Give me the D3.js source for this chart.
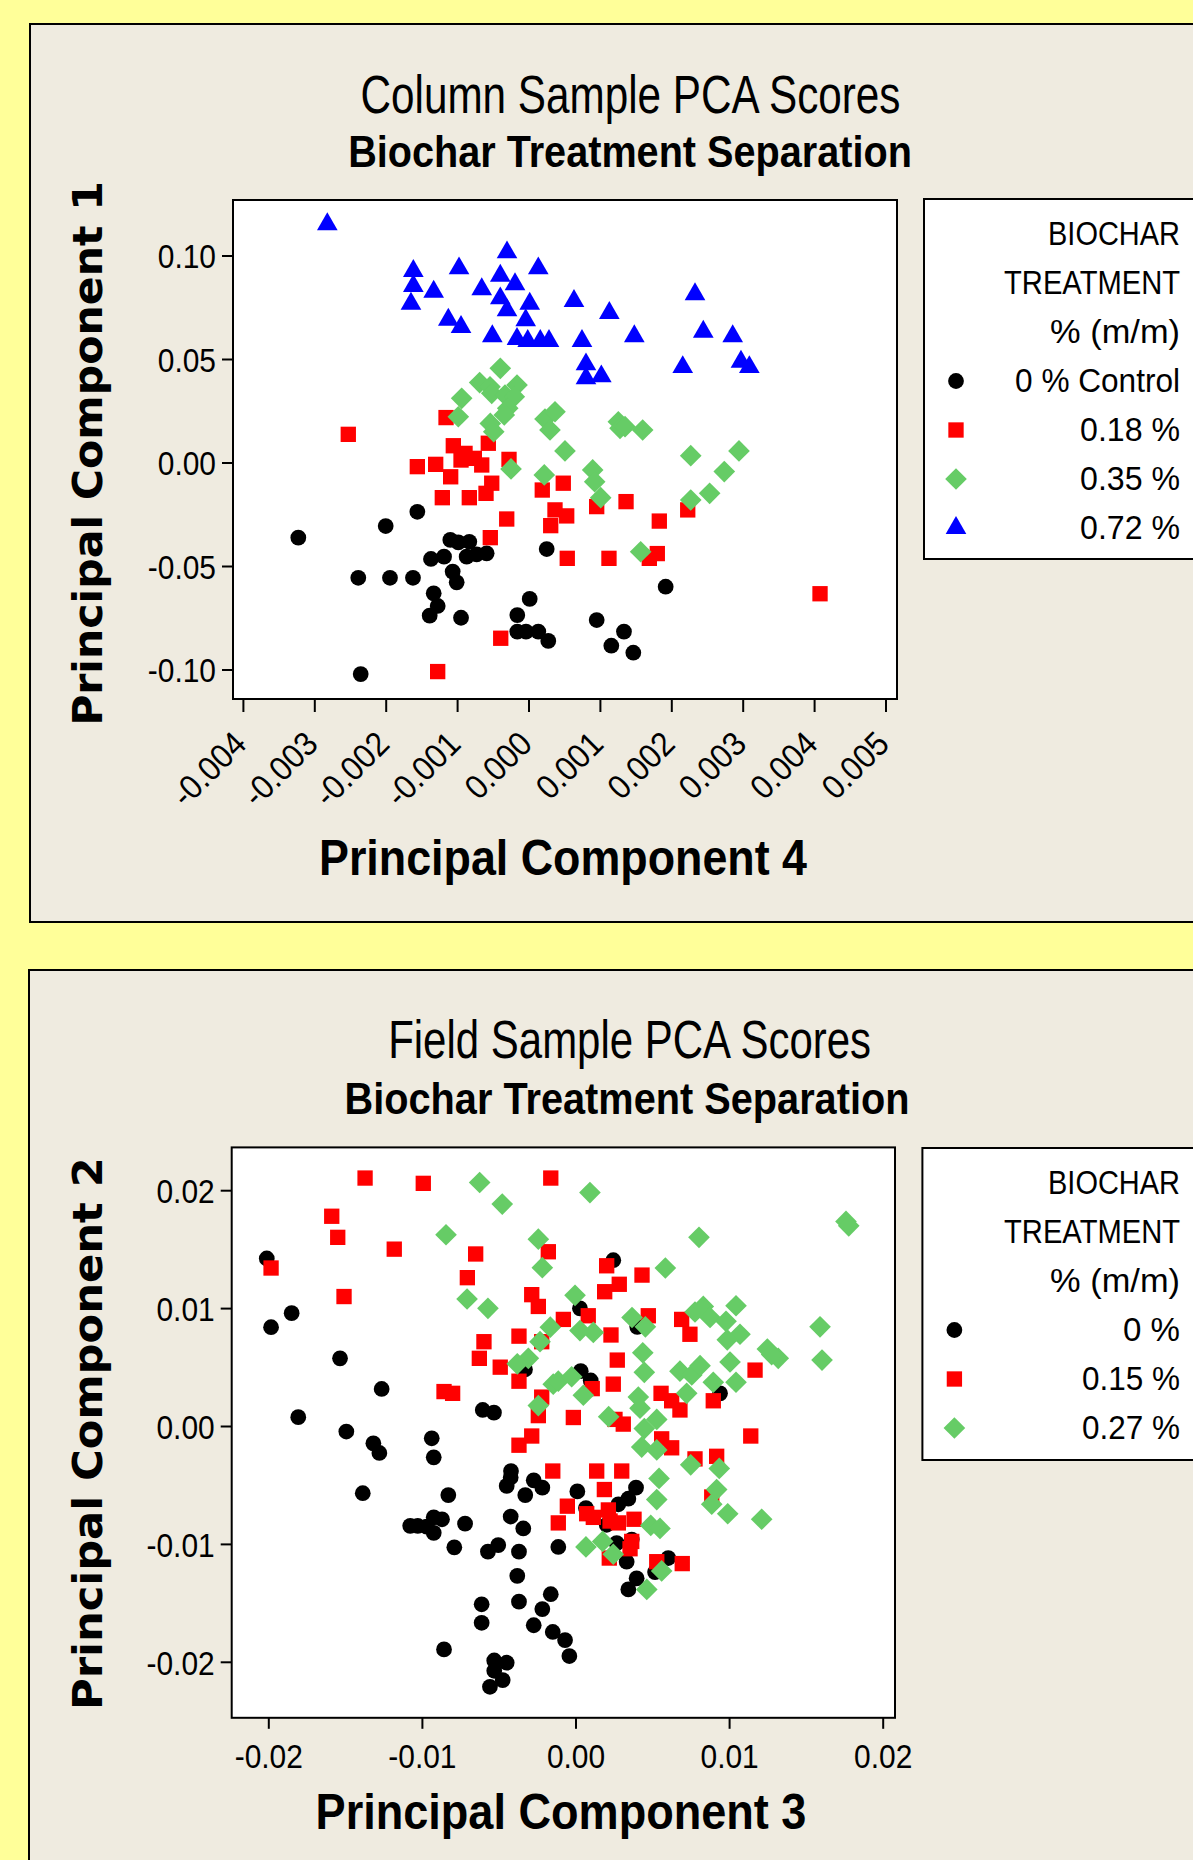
<!DOCTYPE html>
<html>
<head>
<meta charset="utf-8">
<script src="https://cdn.jsdelivr.net/npm/d3@7"></script>
<style>
html,body{margin:0;padding:0;background:#FFFF99;}
svg{display:block;}
</style>
</head>
<body>
<svg id="chart" width="1193" height="1860"></svg>
<script>
// ---------------- DATA ----------------
// Column samples: [PC4, PC1]
const colControl = [[-0.003224,-0.0363],[-0.0020,-0.0307],[-0.001557,-0.0238],[-0.002384,-0.0557],[-0.00194,-0.0557],[-0.001618,-0.0557],[-0.001095,-0.0374],[-0.000983,-0.0386],[-0.000829,-0.0383],[-0.001366,-0.0466],[-0.001183,-0.0455],[-0.000866,-0.0455],[-0.000726,-0.0444],[-0.000586,-0.0439],[-0.001062,-0.0527],[-0.001006,-0.0579],[-0.001328,-0.0632],[-0.001272,-0.0693],[-0.001384,-0.074],[-0.000945,-0.075],[0.000017,-0.0659],[-0.000157,-0.0737],[-0.000157,-0.0817],[-0.000035,-0.0817],[0.000137,-0.0817],[0.000277,-0.0862],[0.000255,-0.0418],[-0.00235,-0.1022],[0.001921,-0.06],[0.000955,-0.0761],[0.001337,-0.0817],[0.00116,-0.0885],[0.001468,-0.0919]];
const col018 = [[-0.002524,0.0136],[-0.001155,0.0217],[-0.001053,0.0081],[-0.000563,0.0093],[-0.000889,0.0044],[-0.000759,0.002],[-0.000945,0.0012],[-0.000655,-0.0012],[-0.001557,-0.002],[-0.0013,-0.0009],[-0.000273,0.0015],[-0.00109,-0.0069],[-0.000515,-0.01],[-0.000595,-0.0149],[-0.001207,-0.017],[-0.000829,-0.017],[0.000193,-0.0133],[0.000371,-0.0229],[0.000535,-0.0258],[0.000311,-0.0305],[-0.000305,-0.0273],[-0.000535,-0.0363],[0.000543,-0.0463],[-0.000389,-0.0849],[-0.001272,-0.101],[0.000487,-0.01],[0.000955,-0.0213],[0.001366,-0.0189],[0.001832,-0.0283],[0.00223,-0.0229],[0.001127,-0.0463],[0.001692,-0.0463],[0.001804,-0.044],[0.004083,-0.0634]];
const col035 = [[-0.000395,0.0455],[-0.000684,0.0386],[-0.000539,0.0366],[-0.000161,0.0374],[-0.000936,0.031],[-0.000515,0.0334],[-0.000329,0.0326],[-0.000199,0.0318],[-0.000983,0.0221],[-0.000291,0.0262],[-0.000339,0.023],[-0.000535,0.0189],[-0.000487,0.0149],[0.000231,0.021],[0.000371,0.0245],[0.000301,0.0157],[-0.000245,-0.0031],[0.000221,-0.006],[0.000511,0.0056],[0.001258,0.0197],[0.001282,0.0165],[0.001352,0.0173],[0.001599,0.0157],[0.002272,0.0033],[0.002948,0.0056],[0.000899,-0.0036],[0.000927,-0.0093],[0.002742,-0.0044],[0.002537,-0.0149],[0.001011,-0.017],[0.002272,-0.0181],[0.001571,-0.0431]];
const col072 = [[-0.002818,0.1151],[-0.000301,0.1015],[-0.001613,0.0925],[-0.000973,0.0938],[0.000137,0.0938],[-0.000395,0.0902],[-0.000189,0.0861],[-0.001613,0.0853],[-0.001328,0.0825],[-0.000655,0.0837],[-0.000395,0.0793],[0.000017,0.0767],[-0.001646,0.0767],[-0.000301,0.0735],[-0.001123,0.069],[-0.000945,0.0655],[-0.000039,0.0687],[-0.000507,0.061],[-0.000161,0.0597],[-0.000011,0.0587],[0.000165,0.0587],[0.000287,0.0587],[0.000637,0.078],[0.001132,0.0722],[0.002332,0.0813],[0.000749,0.0587],[0.001482,0.061],[0.002448,0.0632],[0.00286,0.061],[0.000805,0.0474],[0.000805,0.0407],[0.00102,0.0416],[0.00216,0.0461],[0.002976,0.0487],[0.003093,0.0461]];

// Field samples: [PC3, PC2]
const fieldControl = [[-0.0201,0.01421],[-0.01848,0.00957],[-0.01982,0.00838],[-0.01533,0.00574],[-0.01262,0.00314],[-0.01805,0.00075],[-0.01492,-0.00047],[-0.01316,-0.00147],[-0.01277,-0.00229],[-0.00936,-0.00104],[-0.00923,-0.00266],[-0.01385,-0.0057],[-0.00604,0.00136],[-0.00531,0.00113],[-0.00329,0.0048],[-0.0042,-0.00382],[-0.00422,-0.00436],[-0.00448,-0.00508],[-0.00272,-0.00461],[-0.00216,-0.00523],[-0.00327,-0.00586],[-0.00828,-0.00586],[-0.01076,-0.00847],[-0.01027,-0.00847],[-0.00969,-0.00853],[-0.00923,-0.00775],[-0.00869,-0.00791],[-0.00923,-0.00906],[-0.00719,-0.00828],[-0.00789,-0.01029],[-0.00422,-0.00768],[-0.0034,-0.00869],[-0.00503,-0.0101],[-0.0057,-0.01066],[-0.00368,-0.01066],[-0.00112,-0.01026],[-0.00379,-0.01271],[-0.00611,-0.01512],[-0.00611,-0.01669],[-0.00368,-0.0149],[-0.00161,-0.01427],[-0.00216,-0.01553],[-0.00272,-0.0169],[-0.00148,-0.01747],[-0.00068,-0.01816],[-0.0004,-0.01951],[-0.00856,-0.01895],[-0.00529,-0.01989],[-0.00448,-0.02008],[-0.00529,-0.02076],[-0.00474,-0.02155],[-0.00557,-0.02212],[0.00246,0.01406],[0.00029,0.00998],[0.00402,0.00841],[0.00034,0.00465],[0.00099,0.00386],[0.00941,0.00277],[0.00012,-0.00555],[0.00394,-0.00523],[0.00344,-0.00617],[0.00279,-0.00664],[0.00068,-0.00696],[0.00203,-0.00838],[0.00268,-0.00994],[0.00333,-0.01151],[0.00366,-0.00963],[0.00604,-0.0112],[0.00518,-0.01239],[0.00398,-0.01292],[0.00344,-0.01386]];
const field015 = [[-0.0137,0.02103],[-0.00991,0.02058],[-0.00161,0.02103],[-0.01587,0.01779],[-0.01548,0.016],[-0.0118,0.015],[-0.01982,0.0134],[-0.0065,0.01459],[-0.00177,0.01478],[-0.00704,0.01258],[-0.01507,0.01098],[-0.00285,0.01114],[-0.00242,0.01014],[-0.00079,0.00904],[-0.00596,0.00715],[-0.00626,0.00574],[-0.00368,0.00762],[-0.0022,0.00715],[-0.0049,0.00499],[-0.00368,0.0038],[-0.00856,0.00292],[-0.008,0.00277],[-0.0022,0.00245],[-0.00242,0.00088],[-0.00285,-0.00085],[-0.00368,-0.00163],[-0.00148,-0.00382],[-0.00112,-0.00822],[0.00203,0.01359],[0.00433,0.0128],[0.00285,0.01202],[0.0019,0.01139],[0.00083,0.00935],[0.00474,0.00935],[0.00691,0.00904],[0.00745,0.00778],[0.00231,0.00772],[0.00272,0.00559],[0.01169,0.00474],[0.00246,0.00355],[0.00109,0.00317],[0.00557,0.00277],[0.00626,0.00214],[0.0068,0.00136],[0.00897,0.00214],[-0.00014,0.00072],[0.00257,0.00056],[0.00311,0.00016],[0.00561,-0.00109],[0.00626,-0.00185],[0.01141,-0.00085],[0.00778,-0.00279],[0.00919,-0.00257],[0.00138,-0.00382],[0.00301,-0.00382],[0.00188,-0.00539],[0.00887,-0.00602],[-0.00053,-0.0068],[0.00073,-0.00744],[0.00116,-0.00775],[0.00214,-0.00712],[0.00225,-0.00806],[0.00279,-0.00822],[0.00381,-0.00791],[0.00366,-0.00979],[0.00355,-0.01041],[0.0022,-0.0112],[0.00529,-0.01151],[0.00695,-0.01167]];
const field027 = [[-0.00624,0.02065],[-0.00477,0.01882],[-0.00843,0.01622],[-0.00242,0.01585],[-0.00216,0.01343],[-0.00706,0.01077],[-0.0057,0.00998],[-0.00164,0.00838],[-0.00231,0.00715],[-0.00307,0.00574],[-0.00379,0.00527],[-0.00145,0.00355],[-0.00112,0.0038],[-0.00242,0.00173],[0.00094,0.0198],[0.00804,0.016],[0.01761,0.01735],[0.01779,0.01698],[0.00585,0.0134],[-0.00003,0.01108],[0.00368,0.0092],[0.00455,0.00841],[0.00029,0.00809],[0.00116,0.00794],[0.00778,0.00967],[0.00832,0.01014],[0.00876,0.0092],[0.01045,0.0102],[0.0098,0.00888],[0.01071,0.00778],[0.00988,0.00731],[0.01592,0.00841],[0.00438,0.00621],[0.00448,0.00455],[-0.00025,0.00418],[0.00051,0.00261],[0.0068,0.00465],[0.00757,0.00433],[0.00811,0.00512],[0.00724,0.00277],[0.00897,0.00371],[0.01006,0.00543],[0.01045,0.00371],[0.01249,0.00653],[0.0132,0.00574],[0.01277,0.00606],[0.01605,0.00559],[0.00409,0.00245],[0.0042,0.00151],[0.00216,0.00079],[0.00529,0.00056],[0.00448,-0.00022],[0.00431,-0.00179],[0.00529,-0.00203],[0.0075,-0.00329],[0.00936,-0.0036],[0.00544,-0.00445],[0.00529,-0.00624],[0.00919,-0.00539],[0.00887,-0.00664],[0.00991,-0.00744],[0.01212,-0.00791],[0.0049,-0.00843],[0.0055,-0.00869],[0.00068,-0.01026],[0.00177,-0.00979],[0.00246,-0.01088],[0.00561,-0.01229],[0.00464,-0.01386]];

// Tick values
const colXTicks = [-0.004,-0.003,-0.002,-0.001,0,0.001,0.002,0.003,0.004,0.005];
const colYTicks = [-0.10,-0.05,0,0.05,0.10];
const fieldXTicks = [-0.02,-0.01,0,0.01,0.02];
const fieldYTicks = [-0.02,-0.01,0,0.01,0.02];

// Text
const colTitle = "Column Sample PCA Scores";
const fieldTitle = "Field Sample PCA Scores";
const subTitle = "Biochar Treatment Separation";
const legendHeader = ["BIOCHAR","TREATMENT","% (m/m)"];
const colLegend = ["0 % Control","0.18 %","0.35 %","0.72 %"];
const fieldLegend = ["0 %","0.15 %","0.27 %"];

// ---------------- DRAW ----------------
const svg = d3.select("#chart");
const loc = d3.formatLocale({decimal:".",thousands:",",grouping:[3],currency:["",""],minus:"-"});
const f2 = loc.format(".2f"), f3 = loc.format(".3f");

const NARROW = "'Liberation Sans', Arial, sans-serif";
const WIDEB = "'DejaVu Sans', Verdana, sans-serif";

function squeezeTo(node, base, target){
  const w = node.getComputedTextLength();
  const k = target / w;
  d3.select(node).attr("x",0).attr("y",0).attr("transform", `${base} scale(${k},1)`);
}
function squeezeK(node, base, k){
  d3.select(node).attr("x",0).attr("y",0).attr("transform", `${base} scale(${k},1)`);
}

const shapes = {
  circle:  {type:d3.symbolCircle, size:195, rot:0},
  square:  {type:d3.symbolSquare, size:235, rot:0},
  diamond: {type:d3.symbolSquare, size:235, rot:45},
  triangle:{type:d3.symbolTriangle, size:185, rot:0}
};
function marker(g, shape, color, x, y){
  const s = shapes[shape];
  g.append("path").attr("d", d3.symbol().type(s.type).size(s.size)())
    .attr("transform", `translate(${x},${y}) rotate(${s.rot})`)
    .attr("fill", color);
}

function panel(cfg){
  const g = svg.append("g");
  g.append("rect").attr("x",cfg.panel[0]).attr("y",cfg.panel[1]).attr("width",1300).attr("height",cfg.panel[2])
    .attr("fill","#EFEBE0").attr("stroke","#000").attr("stroke-width",2);
  const t1 = g.append("text").attr("text-anchor","middle")
    .attr("font-family",NARROW).attr("font-size",53).attr("fill","#000").text(cfg.titleText);
  squeezeTo(t1.node(), `translate(${cfg.title[0]},${cfg.title[1]})`, cfg.title[2]);
  const t2 = g.append("text").attr("text-anchor","middle")
    .attr("font-family",NARROW).attr("font-weight","bold").attr("font-size",44).attr("fill","#000").text(subTitle);
  squeezeTo(t2.node(), `translate(${cfg.sub[0]},${cfg.sub[1]})`, cfg.sub[2]);

  const [x0,x1,y0,y1] = cfg.plot;
  const x = d3.scaleLinear().domain(cfg.xDomain).range([x0,x1]);
  const y = d3.scaleLinear().domain(cfg.yDomain).range([y1,y0]);

  g.append("rect").attr("x",x0).attr("y",y0).attr("width",x1-x0).attr("height",y1-y0)
    .attr("fill","#fff");

  const mg = g.append("g");
  cfg.series.forEach(s => s.data.forEach(d => marker(mg, s.shape, s.color, x(d[0]), y(d[1]))));

  g.append("rect").attr("x",x0).attr("y",y0).attr("width",x1-x0).attr("height",y1-y0)
    .attr("fill","none").attr("stroke","#000").attr("stroke-width",2);

  const ax = g.append("g").attr("transform",`translate(0,${y1})`)
    .call(d3.axisBottom(x).tickValues(cfg.xTicks).tickFormat(cfg.xFmt).tickSize(cfg.xTickLen).tickSizeOuter(0));
  ax.select(".domain").remove();
  ax.selectAll(".tick line").attr("stroke","#000").attr("stroke-width",2);
  const xt = ax.selectAll(".tick text").attr("font-family",NARROW).attr("font-size",34).attr("fill","#000").attr("dy",0);
  if (cfg.rotate){
    xt.attr("text-anchor","end").each(function(){
      squeezeK(this, `translate(${cfg.rotOff[0]},${cfg.rotOff[1]}) rotate(-45)`, 0.92);
    });
  } else {
    xt.each(function(){ squeezeK(this, `translate(0,${cfg.xLabelY})`, 0.88); });
  }

  const ay = g.append("g").attr("transform",`translate(${x0},0)`)
    .call(d3.axisLeft(y).tickValues(cfg.yTicks).tickFormat(f2).tickSize(11).tickSizeOuter(0));
  ay.select(".domain").remove();
  ay.selectAll(".tick line").attr("stroke","#000").attr("stroke-width",2);
  ay.selectAll(".tick text").attr("font-family",NARROW).attr("font-size",34).attr("fill","#000")
    .attr("dy","0.36em").each(function(){ squeezeK(this, `translate(${cfg.yLabelX},0)`, 0.88); });

  const xtit = g.append("text").attr("text-anchor","middle")
    .attr("font-family",NARROW).attr("font-weight","bold").attr("font-size",50).attr("fill","#000").text(cfg.xTitleText);
  squeezeTo(xtit.node(), `translate(${cfg.xTitle[0]},${cfg.xTitle[1]})`, cfg.xTitle[2]);
  const ytit = g.append("text")
    .attr("text-anchor","middle").attr("font-family",WIDEB).attr("font-weight","bold").attr("font-size",41)
    .attr("fill","#000").text(cfg.yTitleText);
  squeezeTo(ytit.node(), `translate(${cfg.yTitle[0]},${cfg.yTitle[1]}) rotate(-90)`, cfg.yTitle[2]);

  const [lx, ly, lh] = cfg.legend;
  g.append("rect").attr("x",lx).attr("y",ly).attr("width",400).attr("height",lh)
    .attr("fill","#fff").attr("stroke","#000").attr("stroke-width",2);
  const lines = legendHeader.concat(cfg.series.map(s=>s.label));
  lines.forEach((t,i)=>{
    const tx = g.append("text").attr("text-anchor","end")
      .attr("font-family",NARROW).attr("font-size",34).attr("fill","#000").text(t);
    squeezeTo(tx.node(), `translate(1180,${ly+46+49*i})`, cfg.legendW[i]);
  });
  cfg.series.forEach((s,i)=>{
    marker(g, s.shape, s.color, lx+32, ly+46+49*(i+3)-11);
  });
}

panel({
  panel:[30,24,898],
  titleText: colTitle, title:[630.5,113,540], sub:[630,167,564],
  plot:[233,897,200,699],
  xDomain:[-0.0041387,0.0051611], yDomain:[-0.11425,0.12681],
  xTicks: colXTicks, yTicks: colYTicks, xFmt: f3, xTickLen: 13,
  rotate:true, rotOff:[5,47],
  yLabelX:-17,
  xTitleText:"Principal Component 4", xTitle:[563,875,488],
  yTitleText:"Principal Component 1", yTitle:[102,453.5,545],
  legend:[924,199,360],
  legendW:[132,176,130,165,100,100,100],
  series:[
    {data:colControl, shape:"circle", color:"#000000", label:colLegend[0]},
    {data:col018, shape:"square", color:"#FF0000", label:colLegend[1]},
    {data:col035, shape:"diamond", color:"#66CC66", label:colLegend[2]},
    {data:col072, shape:"triangle", color:"#0000FF", label:colLegend[3]}
  ]
});

panel({
  panel:[29,970,1000],
  titleText: fieldTitle, title:[629.6,1058,483], sub:[627,1114,565],
  plot:[231.7,895,1147.4,1717.8],
  xDomain:[-0.022383,0.020801], yDomain:[-0.02475,0.02363],
  xTicks: fieldXTicks, yTicks: fieldYTicks, xFmt: f2, xTickLen: 11,
  rotate:false, xLabelY: 50,
  yLabelX:-17,
  xTitleText:"Principal Component 3", xTitle:[561,1829,491],
  yTitleText:"Principal Component 2", yTitle:[102,1433.5,553],
  legend:[922.4,1148,312],
  legendW:[132,176,130,57,98,98],
  series:[
    {data:fieldControl, shape:"circle", color:"#000000", label:fieldLegend[0]},
    {data:field015, shape:"square", color:"#FF0000", label:fieldLegend[1]},
    {data:field027, shape:"diamond", color:"#66CC66", label:fieldLegend[2]}
  ]
});
</script>
</body>
</html>
